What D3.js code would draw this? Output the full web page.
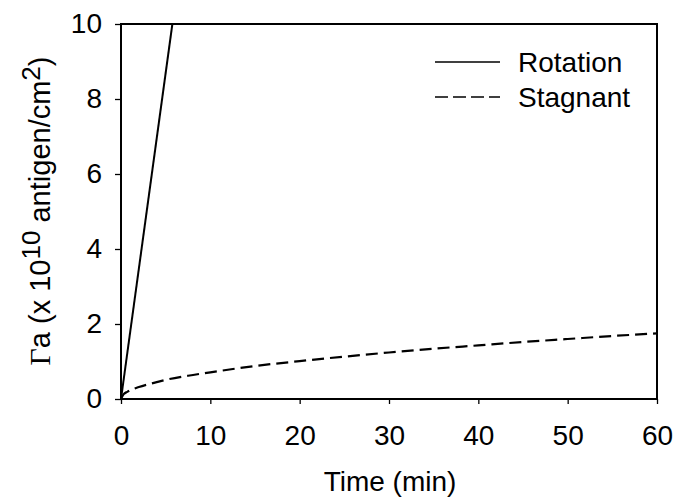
<!DOCTYPE html>
<html>
<head>
<meta charset="utf-8">
<script src="https://cdn.jsdelivr.net/npm/d3@7"></script>
<style>
  body { margin: 0; background: #fff; }
  svg text { font-family: "Liberation Sans", Arial, sans-serif; fill: #000; }
</style>
</head>
<body>
<svg id="chart" width="676" height="500"></svg>
<script>
// values
const rotationTime = [0, 5.75];
const rotationValue = [0, 10];

const stagnantTime = [0, 0.3, 0.7, 1.2, 2, 3, 4, 5, 7.5, 10, 15, 20, 25, 30, 35, 40, 45, 50, 55, 60];
const stagnantValue = [0, 0.13, 0.19, 0.25, 0.32, 0.39, 0.45, 0.51, 0.62, 0.71, 0.88, 1.01, 1.13, 1.24, 1.34, 1.43, 1.52, 1.6, 1.68, 1.75];

const xTicks = [0, 10, 20, 30, 40, 50, 60];
const yTicks = [0, 2, 4, 6, 8, 10];

const legendLabels = ["Rotation", "Stagnant"];

const margin = {left: 121, top: 24, right: 19, bottom: 101};
const width = 676, height = 500;
const fs = "28px";

const svg = d3.select("#chart");
const x = d3.scaleLinear().domain([0, 60]).range([margin.left, width - margin.right]);
const y = d3.scaleLinear().domain([0, 10]).range([height - margin.bottom, margin.top]);

svg.append("defs").append("clipPath").attr("id", "plot")
    .append("rect")
    .attr("x", x(0)).attr("y", y(10))
    .attr("width", x(60) - x(0)).attr("height", y(0) - y(10));

// axes
const xAxis = svg.append("g")
    .attr("transform", `translate(0,${y(0)})`)
    .call(d3.axisBottom(x).tickValues(xTicks).tickSize(5).tickPadding(21));
const yAxis = svg.append("g")
    .attr("transform", `translate(${x(0)},0)`)
    .call(d3.axisLeft(y).tickValues(yTicks).tickSize(6).tickPadding(13));

[xAxis, yAxis].forEach(g => {
    g.select(".domain").remove();
    g.selectAll("line").attr("stroke", "#000").attr("stroke-width", 1.3);
    g.selectAll("text").style("font-size", fs).attr("fill", "#000");
});

// frame around plot
svg.append("rect")
    .attr("x", x(0)).attr("y", y(10))
    .attr("width", x(60) - x(0)).attr("height", y(0) - y(10))
    .attr("fill", "none").attr("stroke", "#000").attr("stroke-width", 2);

const line = d3.line().x(d => x(d[0])).y(d => y(d[1]));

const plot = svg.append("g").attr("clip-path", "url(#plot)");
plot.append("path")
    .datum(d3.zip(rotationTime, rotationValue))
    .attr("d", line)
    .attr("fill", "none").attr("stroke", "#000").attr("stroke-width", 2);

plot.append("path")
    .datum(d3.zip(stagnantTime, stagnantValue))
    .attr("d", line.curve(d3.curveMonotoneX))
    .attr("fill", "none").attr("stroke", "#000").attr("stroke-width", 2.2)
    .attr("stroke-dasharray", "12,6");

// legend
const legend = svg.append("g");
legendLabels.forEach((label, i) => {
    const ly = 62 + i * 35;
    legend.append("line")
        .attr("x1", 435).attr("x2", 500).attr("y1", ly).attr("y2", ly)
        .attr("stroke", "#000").attr("stroke-width", 1.5)
        .attr("stroke-dasharray", i === 1 ? "13,5" : null);
    legend.append("text")
        .attr("x", 518).attr("y", ly + 10)
        .style("font-size", fs)
        .text(label);
});

// axis titles
svg.append("text")
    .attr("x", 390).attr("y", 491)
    .attr("text-anchor", "middle")
    .style("font-size", fs)
    .text("Time (min)");

const yt = svg.append("text")
    .attr("transform", "translate(50,211) rotate(-90)")
    .attr("text-anchor", "middle")
    .style("font-size", "29px");
yt.append("tspan").style("font-family", "'Liberation Serif', 'Times New Roman', serif").style("font-size", "30px").text("Γ");
yt.append("tspan").text("a (x 10");
yt.append("tspan").attr("dy", -10).style("font-size", "26px").text("10");
yt.append("tspan").attr("dy", 10).text(" antigen/cm");
yt.append("tspan").attr("dy", -10).style("font-size", "26px").text("2");
yt.append("tspan").attr("dy", 10).text(")");
</script>
</body>
</html>
